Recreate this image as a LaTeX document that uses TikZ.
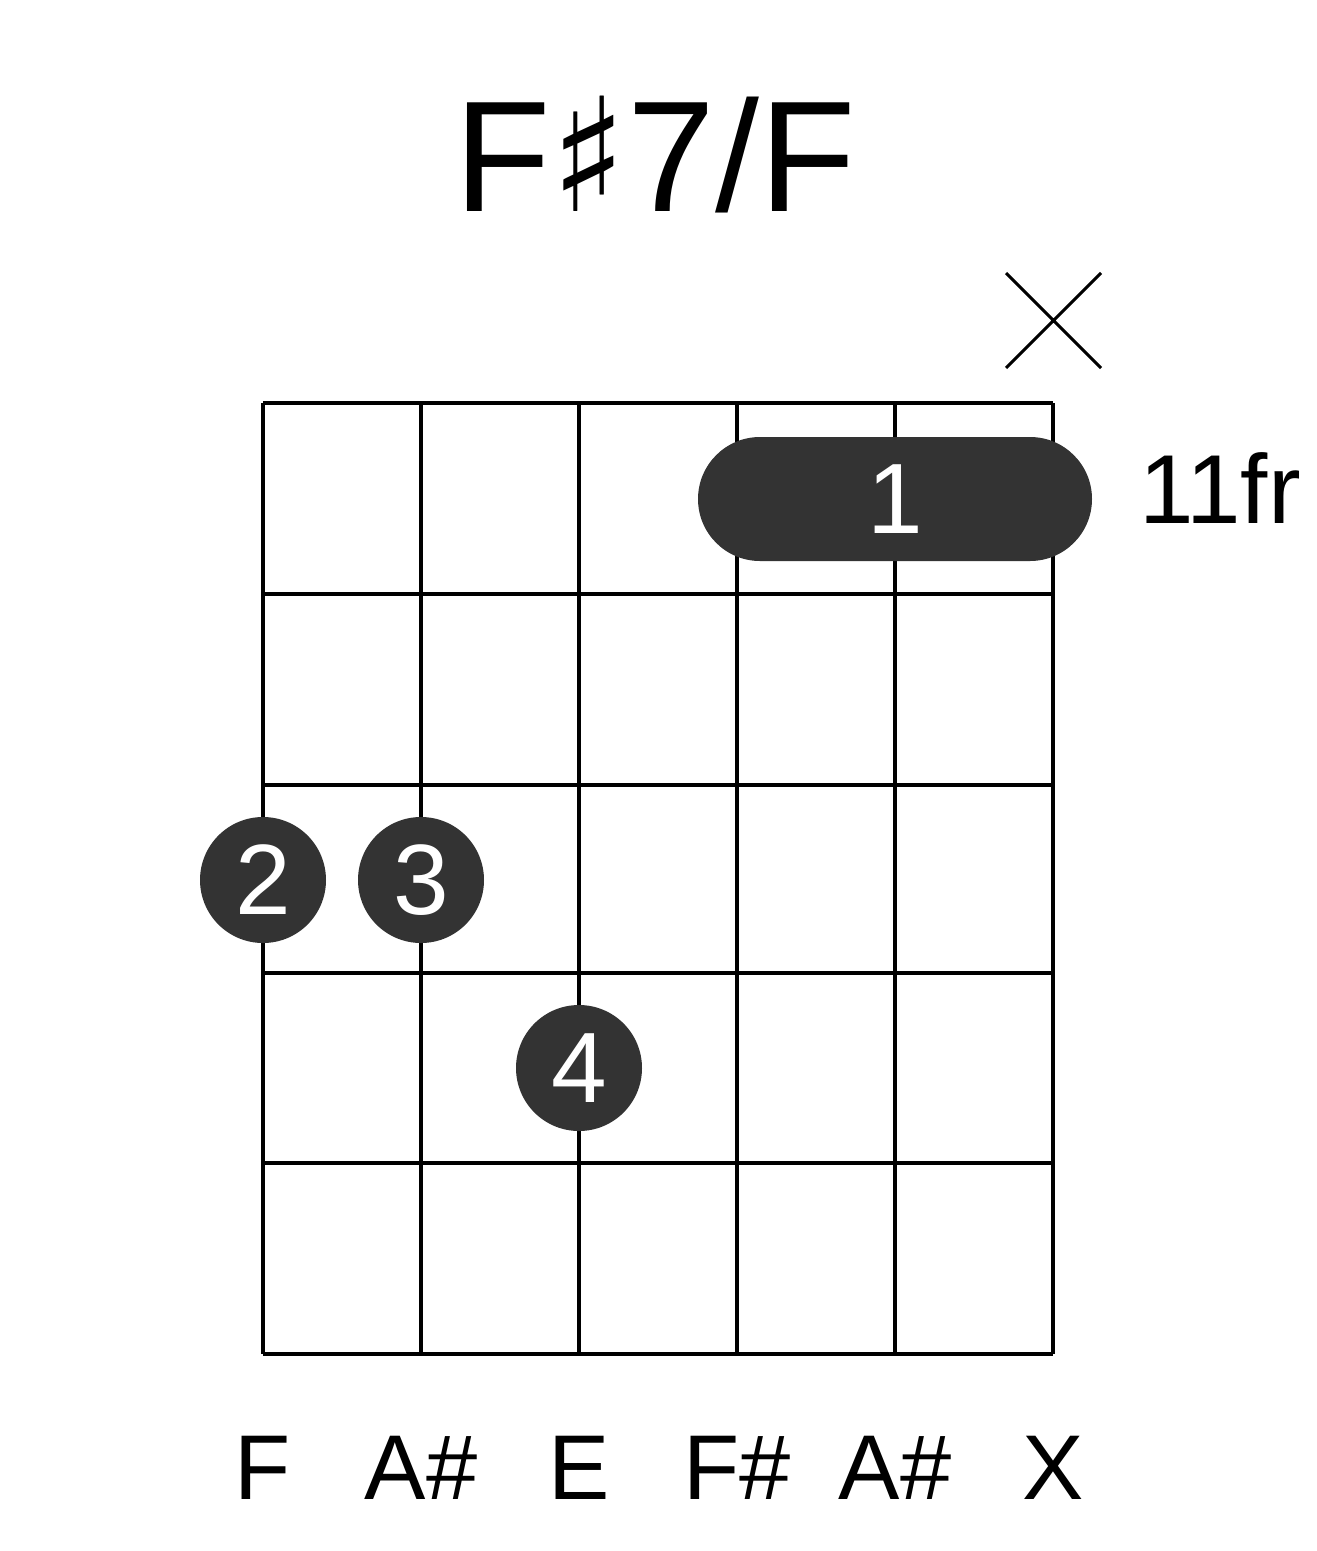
\documentclass[tikz,border=0pt]{standalone}
\usepackage{fontspec}
\setmainfont{Liberation Sans}
\newfontfamily\symfont{DejaVu Sans}
\definecolor{dotgray}{HTML}{333333}
\tikzset{
    grid line/.style={line width=4pt},
    finger/.style={circle, fill=dotgray, minimum size=126pt, inner sep=0pt,
        text=white, font=\fontsize{100}{100}\selectfont},
    barre/.style={rectangle, rounded corners=62pt, fill=dotgray, minimum width=394pt,
        minimum height=124pt, inner sep=0pt, text=white, font=\fontsize{100}{100}\selectfont},
    label text/.style={font=\fontsize{92}{92}\selectfont}
}
\begin{document}
\begin{tikzpicture}[x=1pt,y=-1pt]
    \useasboundingbox (0,0) rectangle (1317,1551);
    % titel
    \node[font=\fontsize{158}{158}\selectfont] (title) at (655,155) {F{\symfont ♯}7/F};
    % griffbrett
    \foreach \x in {263,421,579,737,895,1053}
        \draw[grid line] (\x,403) -- (\x,1354);
    \foreach \y in {403,594,785,973,1163,1354}
        \draw[grid line] (263,\y) -- (1053,\y);
    % barre
    \node[barre] (b1) at (895,499) {1};
    \node[font=\fontsize{98}{98}\selectfont] (fret) at (1220,488) {11fr};
    % finger
    \node[finger] (f2) at (263,880) {2};
    \node[finger] (f3) at (421,880) {3};
    \node[finger] (f4) at (579,1068) {4};
    % stumme saite
    \coordinate (xa) at (1006,273);
    \coordinate (xb) at (1101,368);
    \coordinate (xc) at (1101,273);
    \coordinate (xd) at (1006,368);
    \draw[line width=3pt] (xa) -- (xb) (xc) -- (xd);
    % toene
    \foreach \x/\t [count=\i] in {263/F,421/A\#,579/E,737/F\#,895/A\#,1053/X}
        \node[label text] (n\i) at (\x,1468) {\t};
\end{tikzpicture}
\end{document}
